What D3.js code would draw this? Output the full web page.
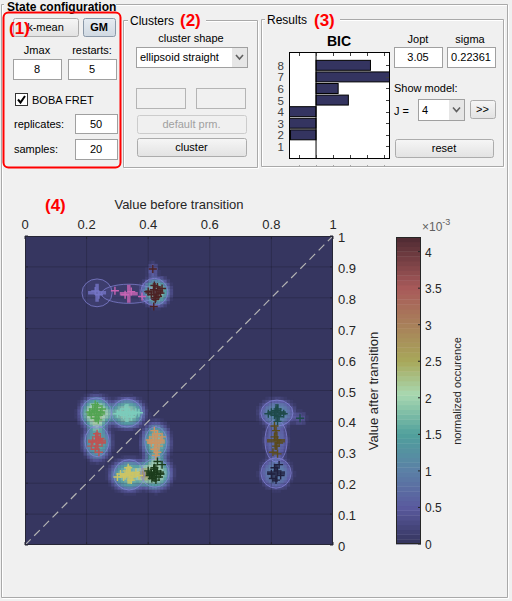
<!DOCTYPE html>
<html>
<head>
<script src="https://d3js.org/d3.v7.min.js"></script>
<style>
body{margin:0;background:#f0f0f0;}
text{font-family:"Liberation Sans",Arial,sans-serif;}
</style>
</head>
<body>
<script>
// ---- BIC per number of states ----
var bicJ = [1, 2, 3, 4, 5, 6, 7, 8];
var bicVal = [0, -1.5, -1.7, -1.8, 1.9, 1.3, 4.6, 3.2];
var bicTicks = [-1, 0, 1, 2, 3, 4];

// ---- transition density plot ----
var beforeTicks = [0, 0.2, 0.4, 0.6, 0.8, 1];
var afterTicks = [0, 0.1, 0.2, 0.3, 0.4, 0.5, 0.6, 0.7, 0.8, 0.9, 1];
var cbTicks = [0, 0.5, 1, 1.5, 2, 2.5, 3, 3.5, 4];

// colormap stops (normalized occurence, x1e-3)
var cmapStops = [0, 0.5, 1, 1.5, 2.05, 2.5, 3, 3.5, 4.2];
var cmapColors = ['#33345c', '#5a5a9e', '#5b80a6', '#50a09c', '#a8d8b0', '#a8a85a', '#a8805a', '#a85a5a', '#4e2a32'];

// density blobs
var blobX = [0.425, 0.414, 0.231, 0.331, 0.234, 0.425, 0.338, 0.422, 0.818, 0.815, 0.815, 0.893];
var blobY = [0.820, 0.890, 0.427, 0.427, 0.333, 0.333, 0.227, 0.233, 0.427, 0.337, 0.233, 0.410];
var blobPeak = [1.9, 0.5, 2.2, 1.9, 1.6, 1.8, 1.8, 2.1, 1.1, 0.7, 1.0, 0.4];
var blobSx = [0.036, 0.015, 0.042, 0.046, 0.036, 0.036, 0.048, 0.042, 0.045, 0.030, 0.040, 0.018];
var blobSy = [0.036, 0.020, 0.042, 0.038, 0.046, 0.050, 0.040, 0.042, 0.036, 0.050, 0.040, 0.018];

// state-transition clusters (centre, ellipse radii, colour)
var trX = [0.234, 0.337, 0.420, 0.231, 0.331, 0.234, 0.425, 0.338, 0.422, 0.818, 0.815, 0.815];
var trY = [0.816, 0.813, 0.819, 0.427, 0.427, 0.336, 0.333, 0.227, 0.233, 0.427, 0.337, 0.233];
var trRx = [0.049, 0.089, 0.044, 0.049, 0.050, 0.039, 0.036, 0.050, 0.046, 0.052, 0.036, 0.049];
var trRy = [0.045, 0.031, 0.044, 0.049, 0.045, 0.050, 0.050, 0.049, 0.046, 0.042, 0.068, 0.049];
var trColor = ['#7474c6', '#c864b4', '#4c2224', '#52a452', '#7cccbc', '#bc5454', '#cc9464', '#ccc464', '#1c3c1c', '#1e4a4a', '#5a4a1a', '#20203e'];

// single transitions per cluster
var trPoints = [
  [[0.228, 0.822], [0.240, 0.810]],
  [[0.292, 0.823], [0.380, 0.804], [0.345, 0.820], [0.325, 0.810]],
  [[0.415, 0.893], [0.418, 0.772], [0.400, 0.820], [0.430, 0.835], [0.440, 0.815], [0.425, 0.800], [0.410, 0.810],
   [0.435, 0.825], [0.420, 0.840], [0.445, 0.830], [0.428, 0.812], [0.418, 0.826], [0.432, 0.805], [0.423, 0.795]],
  [[0.220, 0.440], [0.235, 0.450], [0.245, 0.430], [0.215, 0.420], [0.230, 0.410], [0.240, 0.420], [0.225, 0.435],
   [0.250, 0.440], [0.233, 0.430], [0.210, 0.430], [0.238, 0.405], [0.228, 0.455]],
  [[0.310, 0.430], [0.320, 0.420], [0.340, 0.430], [0.350, 0.425], [0.360, 0.430], [0.325, 0.440], [0.345, 0.415],
   [0.330, 0.430], [0.370, 0.428], [0.300, 0.425]],
  [[0.234, 0.360], [0.230, 0.350], [0.240, 0.340], [0.220, 0.335], [0.250, 0.330], [0.235, 0.320], [0.228, 0.310],
   [0.245, 0.345], [0.215, 0.320], [0.240, 0.300], [0.232, 0.338]],
  [[0.420, 0.370], [0.430, 0.360], [0.415, 0.350], [0.440, 0.340], [0.410, 0.330], [0.425, 0.330], [0.435, 0.320],
   [0.420, 0.310], [0.430, 0.300], [0.445, 0.350], [0.405, 0.340], [0.425, 0.290]],
  [[0.310, 0.230], [0.320, 0.220], [0.330, 0.240], [0.340, 0.230], [0.350, 0.220], [0.360, 0.235], [0.335, 0.250],
   [0.345, 0.210], [0.325, 0.225], [0.370, 0.225], [0.300, 0.220], [0.340, 0.235]],
  [[0.400, 0.240], [0.410, 0.230], [0.420, 0.250], [0.430, 0.240], [0.440, 0.230], [0.415, 0.220], [0.425, 0.210],
   [0.435, 0.220], [0.420, 0.235], [0.445, 0.260], [0.430, 0.270], [0.405, 0.225], [0.418, 0.245], [0.428, 0.228], [0.412, 0.215]],
  [[0.800, 0.430], [0.810, 0.420], [0.820, 0.440], [0.830, 0.430], [0.825, 0.415], [0.815, 0.435], [0.840, 0.425],
   [0.820, 0.400], [0.790, 0.425], [0.893, 0.410]],
  [[0.815, 0.370], [0.810, 0.350], [0.820, 0.340], [0.815, 0.320], [0.805, 0.300], [0.820, 0.295], [0.810, 0.385], [0.825, 0.330]],
  [[0.810, 0.250], [0.820, 0.240], [0.800, 0.230], [0.830, 0.225], [0.815, 0.210], [0.825, 0.260], [0.805, 0.215]]
];

var W = 512, H = 601;
var svg = d3.select('body').append('svg').attr('width', W).attr('height', H).style('display', 'block');
svg.append('rect').attr('width', W).attr('height', H).attr('fill', '#f0f0f0');
var defs = svg.append('defs');

function grad(id, c0, c1) {
  var g = defs.append('linearGradient').attr('id', id).attr('x1', 0).attr('y1', 0).attr('x2', 0).attr('y2', 1);
  g.append('stop').attr('offset', '0').attr('stop-color', c0);
  g.append('stop').attr('offset', '1').attr('stop-color', c1);
}
grad('btn', '#f6f6f6', '#e2e2e2');
grad('btnSel', '#e6ecf2', '#d0d9e2');

function txt(x, y, s, opt) {
  opt = opt || {};
  return svg.append('text').attr('x', x).attr('y', y)
    .attr('font-size', opt.size || 11)
    .attr('text-anchor', opt.anchor || 'start')
    .attr('font-weight', opt.bold ? 'bold' : null)
    .attr('fill', opt.fill || '#000')
    .text(s);
}

// etched frame, optional gap on the top edge for the title
function etched(x0, y0, x1, y1, gap) {
  [['#ffffff', 1], ['#a9a9a9', 0]].forEach(function (c) {
    var o = c[1];
    var p = d3.path();
    if (gap) p.moveTo(gap[1], y0 + o); else p.moveTo(x0 + o, y0 + o);
    p.lineTo(x1 + o, y0 + o); p.lineTo(x1 + o, y1 + o); p.lineTo(x0 + o, y1 + o); p.lineTo(x0 + o, y0 + o);
    if (gap) p.lineTo(gap[0], y0 + o);
    svg.append('path').attr('d', p.toString()).attr('fill', 'none').attr('stroke', c[0]);
  });
}

function button(x, y, w, h, label, opt) {
  opt = opt || {};
  svg.append('rect').attr('x', x + 0.5).attr('y', y + 0.5).attr('width', w).attr('height', h).attr('rx', 2)
    .attr('fill', opt.sel ? 'url(#btnSel)' : (opt.disabled ? '#f0f0f0' : 'url(#btn)'))
    .attr('stroke', opt.sel ? '#8a98a8' : (opt.disabled ? '#cccccc' : '#acacac'));
  txt(x + w / 2, y + h / 2 + 4, label, {anchor: 'middle', bold: opt.bold, fill: opt.disabled ? '#a0a0a0' : '#000'});
}

function edit(x, y, w, h, val) {
  svg.append('rect').attr('x', x + 0.5).attr('y', y + 0.5).attr('width', w).attr('height', h)
    .attr('fill', val === null ? '#f0f0f0' : '#fff').attr('stroke', val === null ? '#b4b4b4' : '#a0a0a0');
  if (val !== null) txt(x + w / 2, y + h / 2 + 4, val, {anchor: 'middle'});
}

function popup(x, y, w, h, val) {
  svg.append('rect').attr('x', x + 0.5).attr('y', y + 0.5).attr('width', w).attr('height', h)
    .attr('fill', '#fff').attr('stroke', '#a0a0a0');
  svg.append('rect').attr('x', x + w - 15).attr('y', y + 1).attr('width', 15).attr('height', h - 1).attr('fill', '#e6e6e6');
  var cx = x + w - 7.5, cy = y + h / 2;
  svg.append('path').attr('d', 'M' + (cx - 3.5) + ',' + (cy - 2) + 'L' + cx + ',' + (cy + 2) + 'L' + (cx + 3.5) + ',' + (cy - 2))
    .attr('fill', 'none').attr('stroke', '#606060').attr('stroke-width', 1.6);
  txt(x + 4, y + h / 2 + 4, val);
}

// ---- panels ----
etched(1.5, 4.5, 507.5, 597.5, [4, 116]);
etched(123.5, 20.5, 257.5, 167.5, [128, 206]);
etched(261.5, 19.5, 503.5, 166.5, [265, 340]);
txt(7, 11, 'State configuration', {size: 12, bold: true});
txt(130, 25, 'Clusters', {size: 12});
txt(267, 24, 'Results', {size: 12});

// panel (1)
button(13, 18, 65, 18, 'k-mean');
button(83, 18, 32, 18, 'GM', {sel: true, bold: true});
txt(37, 54, 'Jmax', {anchor: 'middle'});
txt(92, 54, 'restarts:', {anchor: 'middle'});
edit(13, 59, 48, 20, '8');
edit(68, 59, 48, 20, '5');
svg.append('rect').attr('x', 15.5).attr('y', 93.5).attr('width', 12).attr('height', 12).attr('fill', '#fff').attr('stroke', '#333');
svg.append('path').attr('d', 'M18,99.5L20.5,102.5L25,96').attr('fill', 'none').attr('stroke', '#000').attr('stroke-width', 2);
txt(32, 104, 'BOBA FRET');
txt(14, 128, 'replicates:');
edit(75, 114, 42, 19, '50');
txt(14, 153, 'samples:');
edit(75, 139, 42, 20, '20');
svg.append('rect').attr('x', 3.5).attr('y', 12.5).attr('width', 117).attr('height', 155).attr('rx', 5)
  .attr('fill', 'none').attr('stroke', '#ff0000').attr('stroke-width', 2);
txt(9, 34, '(1)', {size: 17, bold: true, fill: '#ff0000'});

// panel (2)
txt(180, 26, '(2)', {size: 17, bold: true, fill: '#ff0000'});
txt(191, 42, 'cluster shape', {anchor: 'middle'});
popup(136, 47, 111, 20, 'ellipsoid straight');
edit(136, 88, 49, 20, null);
edit(196, 88, 49, 20, null);
button(137, 115, 109, 18, 'default prm.', {disabled: true});
button(137, 138, 109, 18, 'cluster');

// panel (3)
txt(314, 26, '(3)', {size: 17, bold: true, fill: '#ff0000'});
txt(339, 46, 'BIC', {size: 14, bold: true, anchor: 'middle'});
txt(418, 43, 'Jopt', {anchor: 'middle'});
txt(470, 43, 'sigma', {anchor: 'middle'});
edit(394, 47, 48, 20, '3.05');
edit(447, 47, 48, 20, '0.22361');
txt(394, 92, 'Show model:');
txt(394, 115, 'J =');
popup(418, 99, 46, 21, '4');
button(470, 100, 25, 18, '>>');
button(395, 139, 98, 18, 'reset');

// ---- BIC bar chart ----
var bx = d3.scaleLinear().domain([-1.59, 4.29]).range([289, 389]);
var by = d3.scaleLinear().domain([0, 9.15]).range([158, 52]);
defs.append('clipPath').attr('id', 'bicClip').append('rect')
  .attr('x', 289).attr('y', 52).attr('width', 100).attr('height', 106);
var bic = svg.append('g');
bic.append('rect').attr('x', 289.5).attr('y', 52.5).attr('width', 100).attr('height', 106).attr('fill', '#fff');
bic.append('g').attr('clip-path', 'url(#bicClip)').selectAll('rect').data(bicJ).enter().append('rect')
  .attr('x', function (d, i) { return Math.min(bx(0), bx(bicVal[i])); })
  .attr('width', function (d, i) { return Math.abs(bx(bicVal[i]) - bx(0)); })
  .attr('y', function (d) { return by(d + 0.43); })
  .attr('height', function () { return by(0) - by(0.86); })
  .attr('fill', '#343460').attr('stroke', '#000').attr('stroke-width', 1);
bic.append('line').attr('x1', bx(0)).attr('x2', bx(0)).attr('y1', 52).attr('y2', 158).attr('stroke', '#000');
bic.selectAll('.bt').data(bicTicks).enter().append('path')
  .attr('d', function (d) { var x = Math.round(bx(d)) + 0.5; return 'M' + x + ',53V56M' + x + ',158V155'; })
  .attr('stroke', '#404040');
bic.selectAll('.bl').data(bicTicks).enter().append('rect')
  .attr('x', function (d) { return Math.round(bx(d)); }).attr('y', 165).attr('width', 1).attr('height', 2)
  .attr('fill', '#a8a8a8');
bic.selectAll('.rt').data(bicJ).enter().append('path')
  .attr('d', function (d) { var y = Math.round(by(d)) + 0.5; return 'M389,' + y + 'H386'; })
  .attr('stroke', '#404040');
bic.append('rect').attr('x', 289.5).attr('y', 52.5).attr('width', 100).attr('height', 106)
  .attr('fill', 'none').attr('stroke', '#000');
bic.selectAll('.yl').data(bicJ).enter().append('text')
  .attr('x', 284).attr('y', function (d) { return by(d) + 4.5; })
  .attr('text-anchor', 'end').attr('font-size', 11.5).attr('fill', '#404040')
  .text(function (d) { return d; });

// ---- transition density ----
var px = d3.scaleLinear().domain([0, 1]).range([25, 333]);
var py = d3.scaleLinear().domain([0, 1]).range([545, 236]);
var cmap = d3.scaleLinear().domain(cmapStops).range(cmapColors).clamp(true);
var nLev = 64, cmax = 4.2;
function levelColor(v) {
  var k = Math.min(nLev - 1, Math.floor(v / cmax * nLev));
  return cmap((k + 0.5) * cmax / nLev);
}

defs.append('clipPath').attr('id', 'plotClip').append('rect')
  .attr('x', 25).attr('y', 236).attr('width', 308).attr('height', 309);
var plot = svg.append('g');
var inner = plot.append('g').attr('clip-path', 'url(#plotClip)');
inner.append('rect').attr('x', 25).attr('y', 236).attr('width', 308).attr('height', 309).attr('fill', levelColor(0));

// bin the blobs onto a 100x100 grid (flat-topped kernel)
var nBin = 100, cells = [];
for (var i = 0; i < nBin; i++) {
  for (var j = 0; j < nBin; j++) {
    var xc = (i + 0.5) / nBin, yc = (j + 0.5) / nBin, v = 0;
    for (var b = 0; b < blobX.length; b++) {
      var dx = (xc - blobX[b]) / blobSx[b], dy = (yc - blobY[b]) / blobSy[b];
      var r2 = dx * dx + dy * dy;
      v += blobPeak[b] * Math.exp(-0.5 * r2 * r2);
    }
    if (v > cmax / nLev) cells.push({i: i, j: j, v: v});
  }
}
inner.selectAll('.cell').data(cells).enter().append('rect')
  .attr('x', function (d) { return px(d.i / nBin); })
  .attr('y', function (d) { return py((d.j + 1) / nBin); })
  .attr('width', px(1 / nBin) - px(0) + 0.3)
  .attr('height', py(0) - py(1 / nBin) + 0.3)
  .attr('fill', function (d) { return levelColor(d.v); });

// grid
inner.selectAll('.gx').data(beforeTicks).enter().append('line')
  .attr('x1', function (d) { return px(d); }).attr('x2', function (d) { return px(d); })
  .attr('y1', 236).attr('y2', 545).attr('stroke', '#000').attr('stroke-opacity', 0.18);
inner.selectAll('.gy').data(afterTicks).enter().append('line')
  .attr('y1', function (d) { return py(d); }).attr('y2', function (d) { return py(d); })
  .attr('x1', 25).attr('x2', 333).attr('stroke', '#000').attr('stroke-opacity', 0.18);

// model ellipses
inner.selectAll('.ell').data(trX).enter().append('ellipse')
  .attr('cx', function (d) { return px(d); })
  .attr('cy', function (d, k) { return py(trY[k]); })
  .attr('rx', function (d, k) { return px(trRx[k]) - px(0); })
  .attr('ry', function (d, k) { return py(0) - py(trRy[k]); })
  .attr('fill', '#8080e0').attr('fill-opacity', 0.1)
  .attr('stroke', '#8686d8').attr('stroke-opacity', 0.7).attr('stroke-width', 1);

// diagonal
inner.append('line').attr('x1', px(0)).attr('y1', py(0)).attr('x2', px(1)).attr('y2', py(1))
  .attr('stroke', '#b4b4b4').attr('stroke-width', 1.2).attr('stroke-dasharray', '8,5');

function crossPath(x, y, a) {
  return 'M' + (x - a) + ',' + y + 'H' + (x + a) + 'M' + x + ',' + (y - a) + 'V' + (y + a);
}
// single transitions
trPoints.forEach(function (pts, k) {
  inner.selectAll('.pt' + k).data(pts).enter().append('path')
    .attr('d', function (d) { return crossPath(px(d[0]), py(d[1]), 4); })
    .attr('stroke', trColor[k]).attr('stroke-width', 1.4).attr('fill', 'none');
});
// cluster centres
inner.selectAll('.big').data(trX).enter().append('path')
  .attr('d', function (d, k) { return crossPath(px(d), py(trY[k]), 9); })
  .attr('stroke', function (d, k) { return trColor[k]; })
  .attr('stroke-width', 3.5).attr('stroke-opacity', 0.8).attr('fill', 'none');

// axes box + ticks
plot.append('rect').attr('x', 25.5).attr('y', 236.5).attr('width', 307).attr('height', 308)
  .attr('fill', 'none').attr('stroke', '#262636');
plot.selectAll('.xt').data(beforeTicks).enter().append('path')
  .attr('d', function (d) { var x = px(d); return 'M' + x + ',236V239M' + x + ',545V542'; })
  .attr('stroke', '#262636');
plot.selectAll('.yt').data(afterTicks).enter().append('path')
  .attr('d', function (d) { var y = py(d); return 'M333,' + y + 'H330M25,' + y + 'H28'; })
  .attr('stroke', '#262636');
plot.selectAll('.xl').data(beforeTicks).enter().append('text')
  .attr('x', function (d) { return px(d); }).attr('y', 229)
  .attr('text-anchor', 'middle').attr('font-size', 13).attr('fill', '#262626')
  .text(function (d) { return d; });
plot.selectAll('.yl').data(afterTicks).enter().append('text')
  .attr('x', 338).attr('y', function (d) { return py(d) + 6; })
  .attr('font-size', 13).attr('fill', '#262626')
  .text(function (d) { return d; });
txt(179, 209, 'Value before transition', {size: 13, anchor: 'middle', fill: '#262626'});
svg.append('text').attr('transform', 'translate(378,391) rotate(-90)')
  .attr('text-anchor', 'middle').attr('font-size', 13).attr('fill', '#262626')
  .text('Value after transition');
txt(45, 211, '(4)', {size: 17, bold: true, fill: '#ff0000'});

// ---- colorbar ----
var cy = d3.scaleLinear().domain([0, cmax]).range([544, 237]);
var levels = d3.range(nLev);
svg.selectAll('.cb').data(levels).enter().append('rect')
  .attr('x', 396).attr('width', 25)
  .attr('y', function (d) { return cy((d + 1) * cmax / nLev); })
  .attr('height', cy(0) - cy(cmax / nLev) + 0.4)
  .attr('fill', function (d) { return cmap((d + 0.5) * cmax / nLev); });
svg.append('rect').attr('x', 396.5).attr('y', 237.5).attr('width', 24).attr('height', 306)
  .attr('fill', 'none').attr('stroke', '#262626');
svg.selectAll('.cbt').data(cbTicks).enter().append('path')
  .attr('d', function (d) { return 'M421,' + cy(d) + 'H418'; })
  .attr('stroke', '#262626');
svg.selectAll('.cbl').data(cbTicks).enter().append('text')
  .attr('x', 425).attr('y', function (d) { return cy(d) + 5; })
  .attr('font-size', 12).attr('fill', '#262626')
  .text(function (d) { return d; });
var ex = svg.append('text').attr('x', 422).attr('y', 231).attr('font-size', 12).attr('fill', '#606060');
ex.append('tspan').text('\u00d710');
ex.append('tspan').attr('dy', -6).attr('font-size', 9).text('-3');
svg.append('text').attr('transform', 'translate(461,391) rotate(-90)')
  .attr('text-anchor', 'middle').attr('font-size', 11).attr('fill', '#262626')
  .text('normalized occurence');
</script>
</body>
</html>
